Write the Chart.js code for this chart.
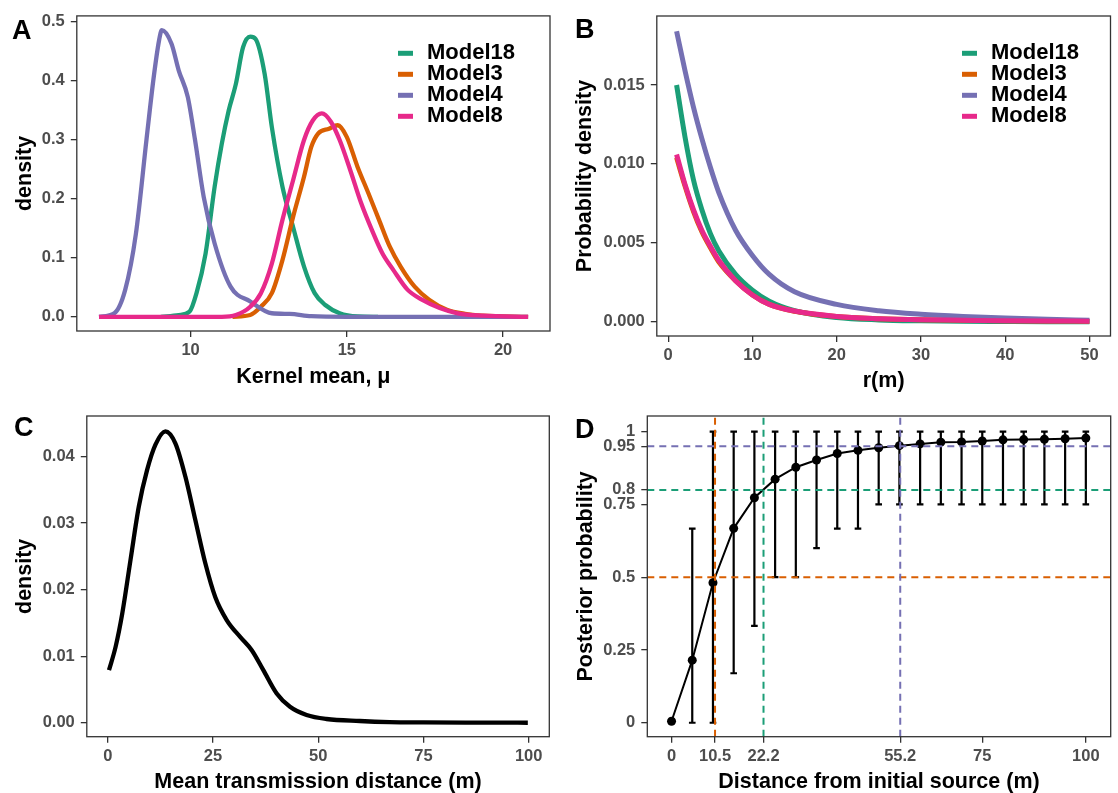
<!DOCTYPE html>
<html>
<head>
<meta charset="utf-8">
<script src="https://cdn.jsdelivr.net/npm/chart.js@4.4.1/dist/chart.umd.min.js"></script>
<style>
  body { margin: 0; background: #fff; width: 1118px; height: 793px; position: relative; overflow: hidden; }
  canvas { position: absolute; }
  .tag { position: absolute; font: bold 27px "Liberation Sans", Arial, sans-serif; line-height: 1; color: #000; }
</style>
</head>
<body>
<canvas id="chartA" width="559" height="397" style="left:0;top:0"></canvas>
<canvas id="chartB" width="559" height="397" style="left:559px;top:0"></canvas>
<canvas id="chartC" width="559" height="396" style="left:0;top:397px"></canvas>
<canvas id="chartD" width="559" height="396" style="left:559px;top:397px"></canvas>
<div class="tag" style="left:12px;top:17px">A</div>
<div class="tag" style="left:575px;top:16px">B</div>
<div class="tag" style="left:14px;top:414px">C</div>
<div class="tag" style="left:575px;top:416px">D</div>
<script>
// ---- panel A: posterior density of the kernel mean ----
const modelNames = ["Model18", "Model3", "Model4", "Model8"];
const modelColors = ["#1B9E77", "#D95F02", "#7570B3", "#E7298A"];

const m18X = [9.05, 9.62, 9.97, 10.19, 10.48, 10.77, 11.0, 11.22, 11.45, 11.68, 11.91, 12.08, 12.37, 12.6, 12.94, 13.28, 13.63, 13.97, 14.31, 14.77, 15.34, 16.0];
const m18Y = [0, 0.003, 0.009, 0.04, 0.107, 0.22, 0.293, 0.349, 0.394, 0.456, 0.474, 0.47, 0.411, 0.321, 0.22, 0.152, 0.085, 0.04, 0.02, 0.006, 0.0006, 0];
const m3X = [11.34, 11.91, 12.25, 12.6, 12.94, 13.28, 13.63, 13.86, 14.08, 14.43, 14.71, 15.0, 15.34, 15.69, 16.03, 16.37, 16.72, 17.17, 17.63, 18.2, 18.78, 19.35, 20.8];
const m3Y = [0, 0.003, 0.017, 0.04, 0.096, 0.169, 0.237, 0.287, 0.31, 0.318, 0.324, 0.304, 0.254, 0.209, 0.164, 0.119, 0.085, 0.051, 0.029, 0.012, 0.005, 0.002, 0];
const m4X = [7.07, 7.56, 7.91, 8.25, 8.59, 8.82, 8.99, 9.08, 9.39, 9.62, 9.91, 10.14, 10.42, 10.77, 11.28, 11.91, 12.6, 13.17, 13.86, 15.0, 17.0, 20.8];
const m4Y = [0, 0.006, 0.046, 0.14, 0.3, 0.405, 0.467, 0.485, 0.462, 0.417, 0.372, 0.3, 0.203, 0.124, 0.051, 0.026, 0.006, 0.005, 0.001, 0, 0, 0];
const m8X = [7.07, 11.0, 11.45, 11.91, 12.25, 12.6, 12.94, 13.28, 13.63, 13.91, 14.2, 14.49, 14.77, 15.11, 15.46, 15.8, 16.14, 16.49, 16.94, 17.4, 17.97, 18.55, 19.35, 20.8];
const m8Y = [0, 0, 0.003, 0.017, 0.04, 0.09, 0.164, 0.231, 0.299, 0.332, 0.344, 0.33, 0.299, 0.248, 0.192, 0.147, 0.107, 0.079, 0.046, 0.029, 0.015, 0.006, 0.002, 0];
const xTicksA = [10, 15, 20];
const xLabelsA = ["10", "15", "20"];
const yTicksA = [0, 0.1, 0.2, 0.3, 0.4, 0.5];
const yLabelsA = ["0.0", "0.1", "0.2", "0.3", "0.4", "0.5"];

// ---- panel B: dispersal kernels ----
const rGrid = [1, 2, 3, 4, 5, 6, 8, 10, 12, 15, 20, 25, 30, 35, 40, 45, 50];
const k18 = [0.015, 0.0117, 0.009, 0.0071, 0.0056, 0.0045, 0.003, 0.002, 0.0013, 0.0007, 0.00027, 0.00012, 0.00006, 0.00003, 0.00002, 0.00001, 0.000005];
const k3 = [0.0104, 0.0086, 0.007, 0.0057, 0.0047, 0.0038, 0.0026, 0.0017, 0.0011, 0.00067, 0.00034, 0.0002, 0.00013, 0.0001, 0.00007, 0.00005, 0.00004];
const k4 = [0.0184, 0.0159, 0.0136, 0.0116, 0.0098, 0.0082, 0.0058, 0.0042, 0.003, 0.0019, 0.0011, 0.0007, 0.00048, 0.00034, 0.00024, 0.00016, 0.0001];
const k8 = [0.0106, 0.0087, 0.0071, 0.0058, 0.0048, 0.0039, 0.0026, 0.0017, 0.0011, 0.00068, 0.00034, 0.0002, 0.00013, 0.0001, 0.00007, 0.00005, 0.00004];
const xTicksB = [0, 10, 20, 30, 40, 50];
const xLabelsB = ["0", "10", "20", "30", "40", "50"];
const yTicksB = [0, 0.005, 0.01, 0.015];
const yLabelsB = ["0.000", "0.005", "0.010", "0.015"];

// ---- panel C: mean transmission distance ----
const distC = [0.3, 1.87, 3.45, 5.42, 7.39, 9.36, 11.34, 13.7, 16.07, 18.44, 20.8, 23.17, 25.54, 28.3, 31.46, 34.22, 36.97, 40.14, 43.3, 47.24, 51.97, 59.86, 66.96, 75, 85, 99.8];
const densC = [0.0079, 0.0114, 0.0164, 0.0245, 0.0325, 0.038, 0.0418, 0.0438, 0.042, 0.037, 0.0305, 0.024, 0.0189, 0.0154, 0.0129, 0.0109, 0.0079, 0.0044, 0.0024, 0.00116, 0.00056, 0.00026, 0.0001, 0.00005, 0.00002, 0];
const xTicksC = [0, 25, 50, 75, 100];
const xLabelsC = ["0", "25", "50", "75", "100"];
const yTicksC = [0, 0.01, 0.02, 0.03, 0.04];
const yLabelsC = ["0.00", "0.01", "0.02", "0.03", "0.04"];

// ---- panel D: posterior probability vs distance ----
const distD = [0, 5, 10, 15, 20, 25, 30, 35, 40, 45, 50, 55, 60, 65, 70, 75, 80, 85, 90, 95, 100];
const probD = [0.005, 0.215, 0.481, 0.668, 0.773, 0.837, 0.878, 0.903, 0.925, 0.936, 0.945, 0.952, 0.958, 0.964, 0.965, 0.968, 0.972, 0.973, 0.974, 0.976, 0.978];
const lowD = [0, 0, 0, 0.17, 0.333, 0.5, 0.5, 0.6, 0.667, 0.667, 0.75, 0.75, 0.75, 0.75, 0.75, 0.75, 0.75, 0.75, 0.75, 0.75, 0.75];
const highD = [0, 0.667, 1, 1, 1, 1, 1, 1, 1, 1, 1, 1, 1, 1, 1, 1, 1, 1, 1, 1, 1];
const refDist = [10.5, 22.2, 55.2];
const refProb = [0.5, 0.8, 0.95];
const refColors = ["#D95F02", "#1B9E77", "#7570B3"];
const xTicksD = [0, 10.5, 22.2, 55.2, 75, 100];
const xLabelsD = ["0", "10.5", "22.2", "55.2", "75", "100"];
const yTicksD = [0, 0.25, 0.5, 0.75, 0.8, 0.95, 1];
const yLabelsD = ["0", "0.25", "0.5", "0.75", "0.8", "0.95", "1"];

const FAMILY = '"Liberation Sans", Arial, sans-serif';
const pts = (xs, ys) => xs.map((x, i) => ({ x: x, y: ys[i] }));

// panel border drawn over the data, like ggplot's panel.border
const frame = {
  id: "frame",
  afterDatasetsDraw(chart) {
    const { ctx, chartArea: c } = chart;
    ctx.save();
    ctx.strokeStyle = "#333333";
    ctx.lineWidth = 1.3;
    ctx.strokeRect(c.left, c.top, c.right - c.left, c.bottom - c.top);
    ctx.restore();
  }
};

// legend inside the panel
const keys = {
  id: "keys",
  afterDraw(chart, args, opts) {
    if (opts.x === undefined) return;
    const ctx = chart.ctx;
    ctx.save();
    modelNames.forEach((name, i) => {
      const y = opts.y + i * 21;
      ctx.strokeStyle = modelColors[i];
      ctx.lineWidth = 5;
      ctx.beginPath();
      ctx.moveTo(opts.x, y);
      ctx.lineTo(opts.x + 15, y);
      ctx.stroke();
      ctx.fillStyle = "#000";
      ctx.font = "bold 22px " + FAMILY;
      ctx.textBaseline = "middle";
      ctx.fillText(name, opts.x + 29, y);
    });
    ctx.restore();
  }
};

// error bars under the points
const errbars = {
  id: "errbars",
  beforeDatasetsDraw(chart, args, opts) {
    if (!opts.low) return;
    const { ctx, scales: { x, y } } = chart;
    ctx.save();
    ctx.strokeStyle = "#000";
    ctx.lineWidth = 2.2;
    distD.forEach((d, i) => {
      const px = x.getPixelForValue(d);
      const x0 = x.getPixelForValue(d - 0.8), x1 = x.getPixelForValue(d + 0.8);
      const yl = y.getPixelForValue(opts.low[i]), yh = y.getPixelForValue(opts.high[i]);
      ctx.beginPath();
      ctx.moveTo(px, yl); ctx.lineTo(px, yh);
      ctx.moveTo(x0, yl); ctx.lineTo(x1, yl);
      ctx.moveTo(x0, yh); ctx.lineTo(x1, yh);
      ctx.stroke();
    });
    ctx.restore();
  }
};

// dashed reference lines
const refs = {
  id: "refs",
  afterDatasetsDraw(chart, args, opts) {
    if (!opts.xs) return;
    const { ctx, chartArea: c, scales: { x, y } } = chart;
    ctx.save();
    ctx.lineWidth = 2;
    ctx.setLineDash([7, 5]);
    opts.ys.forEach((v, i) => {
      const py = y.getPixelForValue(v);
      ctx.strokeStyle = refColors[i];
      ctx.beginPath(); ctx.moveTo(c.left, py); ctx.lineTo(c.right, py); ctx.stroke();
    });
    opts.xs.forEach((v, i) => {
      const px = x.getPixelForValue(v);
      ctx.strokeStyle = refColors[i];
      ctx.beginPath(); ctx.moveTo(px, c.bottom); ctx.lineTo(px, c.top); ctx.stroke();
    });
    ctx.restore();
  }
};

function axis(a, horizontal) {
  return {
    type: "linear",
    min: a.min,
    max: a.max,
    afterBuildTicks: s => { s.ticks = a.ticks.map(v => ({ value: v })); },
    afterFit: s => { if (horizontal) s.height = a.size; else s.width = a.size; },
    ticks: {
      autoSkip: false, maxRotation: 0, padding: horizontal ? 4 : 6,
      color: "#4D4D4D",
      font: { family: FAMILY, size: 16.5, weight: "bold" },
      callback: (v, i) => a.labels[i]
    },
    grid: { drawOnChartArea: false, drawTicks: true, tickLength: 6, color: "#333333", lineWidth: 1.3 },
    border: { display: false },
    title: {
      display: true, text: a.title, color: "#000",
      font: { family: FAMILY, size: 21.5, weight: "bold", lineHeight: 1 },
      padding: horizontal ? { top: 0, bottom: a.tpad } : { top: a.tpad, bottom: 0 }
    }
  };
}

function panel(id, datasets, pad, xa, ya, extra) {
  return new Chart(document.getElementById(id), {
    type: "line",
    data: { datasets: datasets },
    options: {
      responsive: false,
      animation: false,
      layout: { padding: pad },
      plugins: Object.assign({ legend: { display: false }, tooltip: { enabled: false } }, extra),
      scales: { x: axis(xa, true), y: axis(ya, false) }
    },
    plugins: [errbars, refs, frame, keys]
  });
}

function curve(xs, ys, i, width, order) {
  return {
    label: modelNames[i], data: pts(xs, ys), borderColor: modelColors[i], borderWidth: width,
    pointRadius: 0, cubicInterpolationMode: "monotone", fill: false, order: order
  };
}

panel("chartA",
  [curve(m18X, m18Y, 0, 4.3, 4), curve(m3X, m3Y, 1, 4.3, 3), curve(m4X, m4Y, 2, 4.3, 2), curve(m8X, m8Y, 3, 4.3, 1)],
  { left: 0, top: 15.3, right: 9, bottom: 0 },
  { min: 6.36, max: 21.5, ticks: xTicksA, labels: xLabelsA, size: 66, title: "Kernel mean, \u03bc", tpad: 9.5 },
  { min: -0.024, max: 0.509, ticks: yTicksA, labels: yLabelsA, size: 76.8, title: "density", tpad: 14.2 },
  { keys: { x: 398, y: 53.3 } });

panel("chartB",
  [curve(rGrid, k18, 0, 5, 4), curve(rGrid, k3, 1, 5, 3), curve(rGrid, k4, 2, 5, 2), curve(rGrid, k8, 3, 5, 1)],
  { left: 0, top: 16, right: 7.5, bottom: 0 },
  { min: -1.35, max: 52.5, ticks: xTicksB, labels: xLabelsB, size: 61, title: "r(m)", tpad: 5.2 },
  { min: -0.0009, max: 0.01937, ticks: yTicksB, labels: yLabelsB, size: 97.8, title: "Probability density", tpad: 15.7 },
  { keys: { x: 403, y: 53.3 } });

panel("chartC",
  [{ data: pts(distC, densC), borderColor: "#000", borderWidth: 4.3, pointRadius: 0, cubicInterpolationMode: "monotone", fill: false }],
  { left: 0, top: 19, right: 9.7, bottom: 0 },
  { min: -4.97, max: 104.9, ticks: xTicksC, labels: xLabelsC, size: 56.3, title: "Mean transmission distance (m)", tpad: 0.3 },
  { min: -0.0021, max: 0.0461, ticks: yTicksC, labels: yLabelsC, size: 86.8, title: "density", tpad: 14.2 },
  {});

panel("chartD",
  [{ data: pts(distD, probD), borderColor: "#000", borderWidth: 2, pointRadius: 4.5, pointBackgroundColor: "#000", pointBorderWidth: 0, tension: 0, fill: false }],
  { left: 0, top: 19, right: 7.3, bottom: 0 },
  { min: -5.85, max: 106, ticks: xTicksD, labels: xLabelsD, size: 56.3, title: "Distance from initial source (m)", tpad: 0.3 },
  { min: -0.048, max: 1.054, ticks: yTicksD, labels: yLabelsD, size: 88.3, title: "Posterior probability", tpad: 16 },
  { errbars: { low: lowD, high: highD }, refs: { xs: refDist, ys: refProb } });
</script>
</body>
</html>
